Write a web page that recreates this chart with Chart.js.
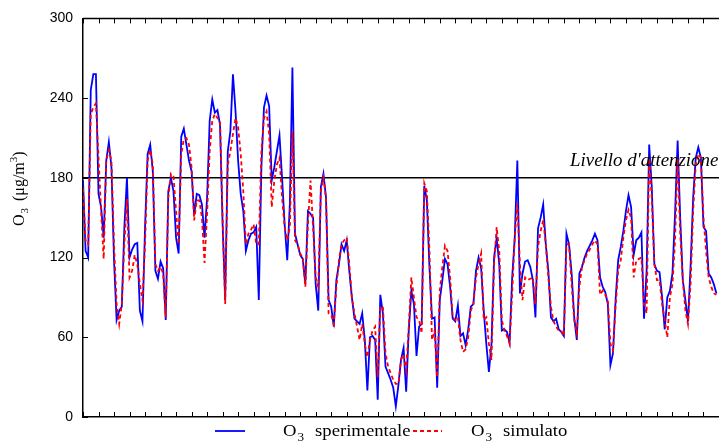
<!DOCTYPE html>
<html lang="it">
<head>
    <meta charset="UTF-8">
    <title>Ozono</title>
    <style>
        body { margin: 0; background: #fff; }
    </style>
</head>
<body>
    <canvas id="grafico" width="719" height="444"></canvas>

    <script src="https://cdn.jsdelivr.net/npm/chart.js@4.4.1/dist/chart.umd.min.js"></script>
    <script>
        // valori, un punto al giorno
        const sperimentale = [
            178,125,120,246,258,258,168,158,135,193,207,188,118,73,80,83,143,180,120,126,130,131,80,72,143,198,205,185,110,104,117,112,73,170,180,170,135,123,211,217,
            205,193,185,152,168,167,160,135,165,223,239,229,231,220,145,88,200,215,258,230,193,168,155,125,133,138,139,143,88,188,233,242,234,178,188,200,212,180,145,118,160,
            263,138,130,122,119,100,155,153,150,100,80,173,183,165,88,83,68,103,115,130,125,133,110,90,74,72,70,78,58,20,60,61,58,13,92,78,38,33,28,22,8,
            24,43,52,19,65,95,85,46,68,70,174,163,113,74,75,22,88,103,119,115,98,74,72,84,61,63,54,66,83,85,110,120,112,80,55,34,55,120,135,115,65,
            66,64,56,105,135,193,93,108,117,118,113,103,75,142,150,160,130,110,75,72,74,66,64,61,138,130,108,75,58,108,113,120,125,129,133,138,133,105,98,94,85,
            39,48,88,118,128,140,155,167,158,122,133,135,139,74,110,205,173,115,110,109,90,66,90,95,108,153,208,150,103,88,72,113,165,195,203,195,143,140,108,105,100,93
        ];
        const simulato = [
            172,133,130,228,233,236,195,155,119,193,201,193,130,85,70,85,130,164,105,110,122,115,100,88,130,193,201,190,115,110,113,108,75,165,183,181,155,130,198,209,
            210,205,188,148,163,163,150,116,153,200,223,228,225,223,150,85,190,200,213,225,218,198,170,130,138,141,145,130,130,200,225,230,213,158,178,190,195,165,143,133,143,
            215,133,130,123,120,98,145,178,143,105,98,170,180,165,78,77,70,98,118,130,133,135,115,90,78,68,58,70,55,45,58,65,68,30,83,83,48,38,33,28,25,
            25,43,47,35,68,105,90,75,73,63,176,170,125,58,65,30,95,113,129,125,105,75,73,75,58,49,51,60,80,85,105,115,123,73,75,55,43,115,143,125,73,
            65,61,55,93,135,160,115,88,105,103,104,105,85,128,140,148,130,105,83,72,68,65,65,61,130,130,100,73,63,98,113,118,123,126,130,133,130,92,95,92,88,
            55,50,83,110,118,135,148,156,150,105,118,119,120,85,78,195,165,115,103,103,85,73,60,90,100,133,195,138,103,80,70,100,155,190,198,195,150,125,105,98,93,92
        ];
        const soglia = 180;
        const etichettaSoglia = "Livello d'attenzione";
        const yMin = 0, yMax = 300, yPasso = 60;
        const xPasso = 6, xMax = 246;
        const nomiSerie = ['sperimentale', 'simulato'];

        const serif = '"Liberation Serif", "Times New Roman", serif';

        // testo allargato in orizzontale come nell'originale
        function testo(ctx, s, x, y, font, sx) {
            ctx.save();
            ctx.font = font;
            ctx.translate(x, y);
            ctx.scale(sx, 1);
            ctx.fillText(s, 0, 0);
            const w = ctx.measureText(s).width * sx;
            ctx.restore();
            return w;
        }

        function voceO3(ctx, x, y, resto) {
            const w = testo(ctx, 'O', x, y, '17px ' + serif, 1.1);
            testo(ctx, '3', x + w + 1, y + 5, '12px ' + serif, 1.1);
            testo(ctx, resto, x + 32, y, '17px ' + serif, 1.1);
        }

        const decorazioni = {
            id: 'decorazioni',
            beforeDatasetsDraw(chart) {
                const {ctx, chartArea: a, scales: {x, y}} = chart;
                ctx.save();
                ctx.strokeStyle = '#000';
                ctx.lineWidth = 1;
                ctx.beginPath();
                x.ticks.forEach(t => {
                    const px = Math.round(x.getPixelForValue(t.value)) + 0.5;
                    ctx.moveTo(px, a.bottom); ctx.lineTo(px, a.bottom - 5);
                    ctx.moveTo(px, a.top); ctx.lineTo(px, a.top + 5);
                });
                y.ticks.forEach(t => {
                    const py = Math.round(y.getPixelForValue(t.value)) + 0.5;
                    ctx.moveTo(a.left, py); ctx.lineTo(a.left + 5, py);
                });
                ctx.stroke();
                // bordo superiore
                ctx.lineWidth = 1.5;
                ctx.beginPath();
                ctx.moveTo(a.left, a.top); ctx.lineTo(a.right, a.top);
                ctx.stroke();
                // soglia di attenzione
                const ys = y.getPixelForValue(soglia);
                ctx.beginPath();
                ctx.moveTo(a.left, ys); ctx.lineTo(a.right, ys);
                ctx.stroke();
                ctx.restore();
            },
            afterDraw(chart) {
                const {ctx, scales: {y}} = chart;
                ctx.save();
                ctx.fillStyle = '#000';
                ctx.textBaseline = 'alphabetic';

                // etichetta soglia
                testo(ctx, etichettaSoglia, 570, y.getPixelForValue(soglia) - 12, 'italic 18px ' + serif, 1.05);

                // titolo asse y, ruotato
                ctx.save();
                ctx.translate(24, 226);
                ctx.rotate(-Math.PI / 2);
                ctx.font = '16px ' + serif;
                ctx.fillText('O', 0, 0);
                let w = ctx.measureText('O').width;
                ctx.font = '11px ' + serif;
                ctx.fillText('3', w + 1, 4);
                ctx.font = '16px ' + serif;
                const unita = '(\u03bcg/m';
                ctx.fillText(unita, 25, 0);
                w = 25 + ctx.measureText(unita).width;
                ctx.font = '11px ' + serif;
                ctx.fillText('3', w, -7);
                w += ctx.measureText('3').width;
                ctx.font = '16px ' + serif;
                ctx.fillText(')', w, 0);
                ctx.restore();

                // legenda
                ctx.lineWidth = 1.8;
                ctx.strokeStyle = '#0000ff';
                ctx.beginPath();
                ctx.moveTo(215, 431); ctx.lineTo(245, 431);
                ctx.stroke();
                voceO3(ctx, 283, 436, nomiSerie[0]);
                ctx.strokeStyle = '#ff0000';
                ctx.setLineDash([4, 3]);
                ctx.beginPath();
                ctx.moveTo(413, 431); ctx.lineTo(442, 431);
                ctx.stroke();
                ctx.setLineDash([]);
                voceO3(ctx, 471, 436, nomiSerie[1]);
                ctx.restore();
            }
        };

        const ctx = document.getElementById('grafico').getContext('2d');
        const grafico = new Chart(ctx, {
            type: 'line',
            data: {
                datasets: [
                    {
                        label: 'O3 ' + nomiSerie[0],
                        data: sperimentale.map((v, i) => ({x: i, y: v})),
                        borderColor: '#0000ff',
                        borderWidth: 1.8,
                        pointRadius: 0,
                        tension: 0,
                        fill: false,
                        order: 1
                    },
                    {
                        label: 'O3 ' + nomiSerie[1],
                        data: simulato.map((v, i) => ({x: i, y: v})),
                        borderColor: '#ff0000',
                        borderWidth: 1.8,
                        borderDash: [4, 3],
                        pointRadius: 0,
                        tension: 0,
                        fill: false,
                        order: 0
                    }
                ]
            },
            options: {
                responsive: false,
                animation: false,
                devicePixelRatio: 1,
                layout: { padding: { top: 17, right: 0, bottom: 0, left: 0 } },
                plugins: { legend: { display: false }, tooltip: { enabled: false } },
                scales: {
                    x: {
                        type: 'linear',
                        min: 0,
                        max: xMax,
                        ticks: { display: false, stepSize: xPasso },
                        grid: { display: false },
                        border: { display: true, color: '#000', width: 1.5 },
                        afterFit(scale) { scale.height = 27; }
                    },
                    y: {
                        min: yMin,
                        max: yMax,
                        ticks: {
                            stepSize: yPasso,
                            padding: 10,
                            color: '#000',
                            font: { family: '"Liberation Sans", Arial, sans-serif', size: 14 }
                        },
                        grid: { display: false, drawTicks: false },
                        border: { display: true, color: '#000', width: 1.5 },
                        afterFit(scale) { scale.width = 83; }
                    }
                }
            },
            plugins: [decorazioni]
        });
    </script>
</body>
</html>
